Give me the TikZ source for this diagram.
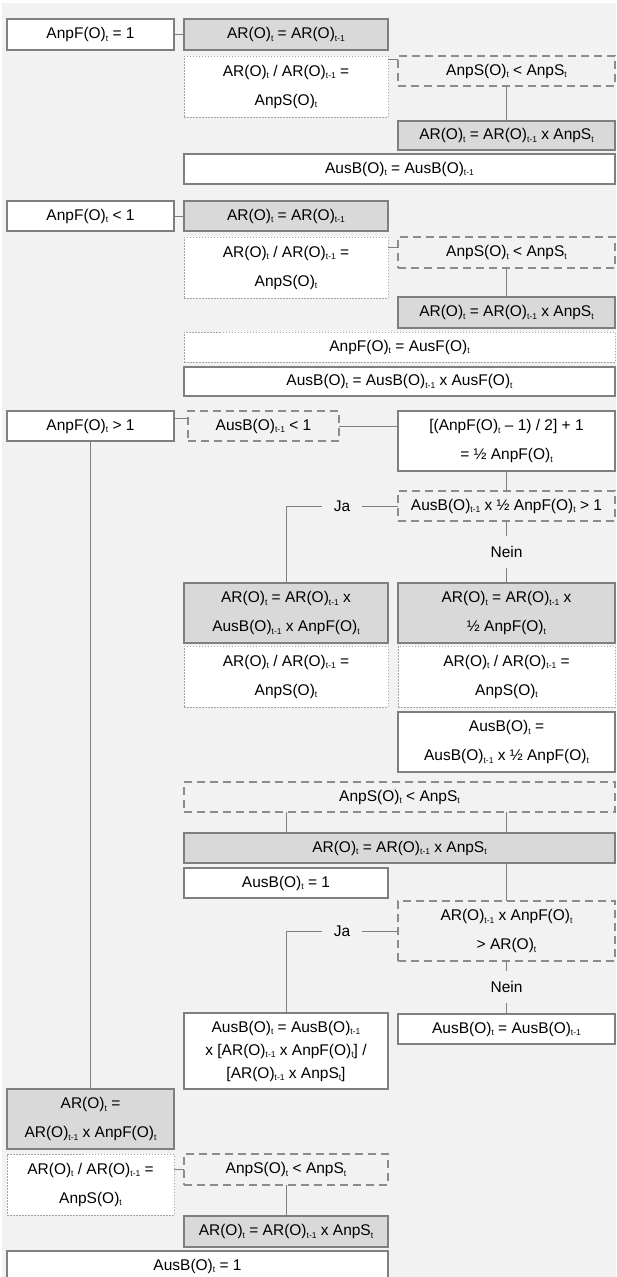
\documentclass[tikz,border=0pt]{standalone}
\usepackage{fontspec}
\setmainfont{Liberation Sans}
\usetikzlibrary{calc}
\definecolor{bg}{HTML}{F2F2F2}
\definecolor{bd}{HTML}{7F7F7F}
\definecolor{gf}{HTML}{D9D9D9}
\definecolor{dl}{HTML}{8C8C8C}
\definecolor{dt}{HTML}{A6A6A6}
\newcommand{\sbs}[1]{\raisebox{-0.35ex}{\fontsize{8.5}{8.5}\selectfont #1}}
\newcommand{\Ot}{(O)\sbs{t}}
\newcommand{\Otm}{(O)\sbs{t-1}}
\begin{document}
\begin{tikzpicture}[x=1pt,y=-1pt,
  base/.style={inner sep=0pt,outer sep=0pt,align=center,anchor=north west,font=\fontsize{15.5}{29}\selectfont},
  solidbox/.style={base,draw=bd,line width=1.3pt,fill=white},
  graybox/.style={base,draw=bd,line width=1.3pt,fill=gf},
  dashbox/.style={base,draw=dl,line width=1.3pt,dash pattern=on 8pt off 5pt},
  dotbox/.style={base,draw=dt,line width=0.7pt,dash pattern=on 1.5pt off 1.5pt,fill=white},
  conn/.style={draw=bd,line width=0.8pt},
  lbl/.style={font=\fontsize{15.5}{16}\selectfont,inner xsep=12pt,inner ysep=10pt}]
\useasboundingbox (0,0) rectangle (616,1277);
\fill[white] (0,0) rectangle (616,1277);
\fill[bg] (2,3) rectangle (616,1277);

% group 1
\node[solidbox,minimum width=167pt,minimum height=31pt] (a1) at (7,19) {AnpF\Ot{} = 1};
\node[graybox,minimum width=204pt,minimum height=31pt] (g1) at (184,19) {AR\Ot{} = AR\Otm};
\node[dotbox,minimum width=204pt,minimum height=61pt] (dt1) at (184,56) {AR\Ot{} / AR\Otm{} =\\AnpS\Ot};
\node[dashbox,minimum width=217pt,minimum height=30pt] (ds1) at (398,56) {AnpS\Ot{} {\textless} AnpS\sbs{t}};
\node[graybox,minimum width=217pt,minimum height=29pt] (g1b) at (398,121) {AR\Ot{} = AR\Otm{} x AnpS\sbs{t}};
\node[solidbox,minimum width=431pt,minimum height=30pt] (w1) at (184,154) {AusB\Ot{} = AusB\Otm};
\draw[conn] (a1) -- (g1);
\coordinate (t1) at ([yshift=-3pt]ds1.north west);
\draw[conn] (t1) -- (t1 -| dt1.east);
\draw[conn] (ds1.south) -- (g1b.north);

% group 2
\node[solidbox,minimum width=167pt,minimum height=30pt] (a2) at (7,201) {AnpF\Ot{} {\textless} 1};
\node[graybox,minimum width=204pt,minimum height=30pt] (g2) at (184,201) {AR\Ot{} = AR\Otm};
\node[dotbox,minimum width=204pt,minimum height=61pt] (dt2) at (184,237) {AR\Ot{} / AR\Otm{} =\\AnpS\Ot};
\node[dashbox,minimum width=217pt,minimum height=31pt] (ds2) at (398,237) {AnpS\Ot{} {\textless} AnpS\sbs{t}};
\node[graybox,minimum width=217pt,minimum height=31pt] (g2b) at (398,297) {AR\Ot{} = AR\Otm{} x AnpS\sbs{t}};
\node[dotbox,minimum width=431pt,minimum height=30pt] (dt2b) at (184,332) {AnpF\Ot{} = AusF\Ot};
\node[solidbox,minimum width=431pt,minimum height=29pt] (w2) at (184,367) {AusB\Ot{} = AusB\Otm{} x AusF\Ot};
\draw[conn] (a2) -- (g2);
\coordinate (t2) at ([yshift=-10pt]ds2.north west);
\draw[conn] (t2) -- (t2 -| dt2.east);
\draw[conn] (ds2.south) -- (g2b.north);

% group 3
\node[solidbox,minimum width=167pt,minimum height=30pt] (a3) at (7,411) {AnpF\Ot{} {\textgreater} 1};
\node[dashbox,minimum width=151pt,minimum height=30pt] (ds3) at (188,411) {AusB\Otm{} {\textless} 1};
\node[solidbox,minimum width=217pt,minimum height=60pt] (w3) at (398,411) {[(AnpF\Ot{} – 1) / 2] + 1\\= ½ AnpF\Ot};
\node[dashbox,minimum width=217pt,minimum height=30pt] (ds3b) at (398,491) {AusB\Otm{} x ½ AnpF\Ot{} {\textgreater} 1};
\node[lbl,anchor=center] (ja1) at (342,506) {Ja};
\node[lbl,anchor=center] (nein1) at (506.5,552) {Nein};
\node[graybox,minimum width=204pt,minimum height=60pt] (g3l) at (184,583) {AR\Ot{} = AR\Otm{} x\\AusB\Otm{} x AnpF\Ot};
\node[graybox,minimum width=217pt,minimum height=60pt] (g3r) at (398,583) {AR\Ot{} = AR\Otm{} x\\½ AnpF\Ot};
\node[dotbox,minimum width=204pt,minimum height=61pt] (dt3l) at (184,646) {AR\Ot{} / AR\Otm{} =\\AnpS\Ot};
\node[dotbox,minimum width=217pt,minimum height=61pt] (dt3r) at (398,646) {AR\Ot{} / AR\Otm{} =\\AnpS\Ot};
\node[solidbox,minimum width=217pt,minimum height=60pt] (w3r) at (398,712) {AusB\Ot{} =\\AusB\Otm{} x ½ AnpF\Ot};
\node[dashbox,minimum width=431pt,minimum height=30pt] (ds4) at (184,782) {AnpS\Ot{} {\textless} AnpS\sbs{t}};
\node[graybox,minimum width=431pt,minimum height=30pt] (g4) at (184,833) {AR\Ot{} = AR\Otm{} x AnpS\sbs{t}};
\node[solidbox,minimum width=204pt,minimum height=30pt] (w4) at (184,868) {AusB\Ot{} = 1};
\node[dashbox,minimum width=217pt,minimum height=60pt] (ds5) at (398,901) {AR\Otm{} x AnpF\Ot\\{\textgreater} AR\Ot};
\node[lbl,anchor=center] (ja2) at (342,931) {Ja};
\node[lbl,anchor=center] (nein2) at (506.5,987) {Nein};
\node[solidbox,minimum width=217pt,minimum height=30pt] (w5r) at (398,1014) {AusB\Ot{} = AusB\Otm};
\node[solidbox,minimum width=204pt,minimum height=76pt,font=\fontsize{15.5}{23}\selectfont] (w5l) at (184,1013) {AusB\Ot{} = AusB\Otm\\x [AR\Otm{} x AnpF\Ot] /\\{}[AR\Otm{} x AnpS\sbs{t}]};
\node[graybox,minimum width=167pt,minimum height=60pt] (g6) at (7,1089) {AR\Ot{} =\\AR\Otm{} x AnpF\Ot};
\node[dotbox,minimum width=167pt,minimum height=61pt] (dt6) at (7,1154) {AR\Ot{} / AR\Otm{} =\\AnpS\Ot};
\node[dashbox,minimum width=204pt,minimum height=31pt] (ds6) at (184,1154) {AnpS\Ot{} {\textless} AnpS\sbs{t}};
\node[graybox,minimum width=204pt,minimum height=31pt] (g6b) at (184,1216) {AR\Ot{} = AR\Otm{} x AnpS\sbs{t}};
\node[solidbox,minimum width=381pt,minimum height=30pt] (w6) at (7,1251) {AusB\Ot{} = 1};

\coordinate (t3) at ([yshift=-7pt]ds3.north west);
\draw[conn] (t3) -- (t3 -| a3.east);
\draw[conn] (ds3.east) -- (ds3.east -| w3.west);
\draw[conn] (w3.south) -- (ds3b.north);
\draw[conn] (ds3b.west |- ja1) -- (ja1.east);
\draw[conn] (ja1.west) -| (g3l.north);
\draw[conn] (ds3b.south) -- (nein1.north);
\draw[conn] (nein1.south) -- (g3r.north);
\draw[conn] (a3.south) -- (g6.north);
\draw[conn] (ds4.south -| g3l.north) -- (g4.north -| g3l.north);
\draw[conn] (ds4.south -| g3r.north) -- (g4.north -| g3r.north);
\draw[conn] (g4.south -| ds5.north) -- (ds5.north);
\draw[conn] (ds5.west |- ja2) -- (ja2.east);
\draw[conn] (ja2.west) -| (w5l.north);
\draw[conn] (ds5.south) -- (nein2.north);
\draw[conn] (nein2.south) -- (w5r.north);
\draw[conn] (ds6.west) -- (ds6.west -| dt6.east);
\draw[conn] (ds6.south) -- (g6b.north);
\end{tikzpicture}
\end{document}
